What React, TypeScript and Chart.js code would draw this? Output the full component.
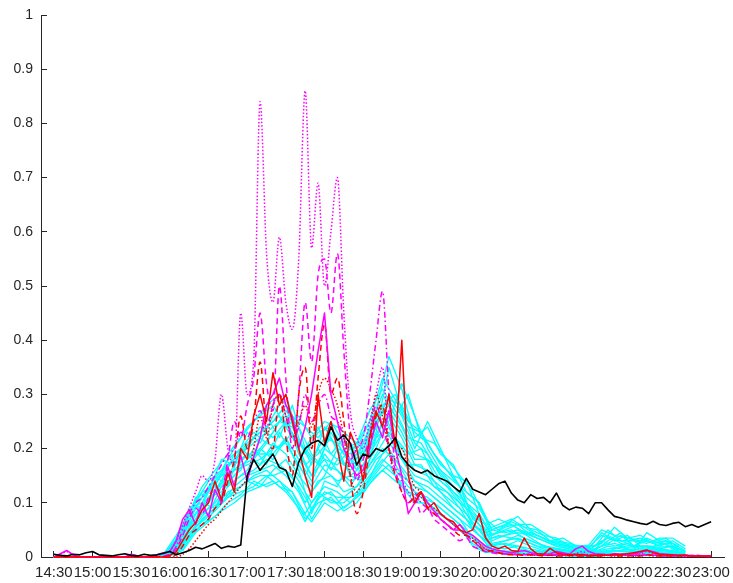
import { useEffect, useRef } from "react";
import { Chart, registerables } from "chart.js";

Chart.register(...registerables);

// Sample times in minutes after 14:30
const minutes5 = Array.from({ length: 103 }, (_, i) => i * 5); // 14:30 .. 23:00, 5-min
const minutesEven = Array.from({ length: 50 }, (_, i) => i * 10); // 14:30 .. 22:40
const minutesOdd = Array.from({ length: 49 }, (_, i) => 5 + i * 10); // 14:35 .. 22:35

const xTickMinutes = [0, 30, 60, 90, 120, 150, 180, 210, 240, 270, 300, 330, 360, 390, 420, 450, 480, 510];
const yTickValues = [0, 0.1, 0.2, 0.3, 0.4, 0.5, 0.6, 0.7, 0.8, 0.9, 1];

// Observation (5-min)
const observed = [
  0.005, 0.003, 0.002, 0.005, 0.004, 0.008, 0.01, 0.004, 0.003, 0.002, 0.004, 0.006,
  0.003, 0.002, 0.005, 0.003, 0.004, 0.007, 0.01, 0.004, 0.008, 0.012, 0.018, 0.015,
  0.02, 0.025, 0.016, 0.02, 0.018, 0.022, 0.15, 0.18, 0.16, 0.175, 0.19, 0.165,
  0.16, 0.13, 0.175, 0.2, 0.21, 0.215, 0.205, 0.24, 0.215, 0.225, 0.21, 0.17,
  0.19, 0.185, 0.2, 0.195, 0.205, 0.22, 0.185, 0.17, 0.16, 0.155, 0.16, 0.15,
  0.145, 0.14, 0.13, 0.12, 0.145, 0.125, 0.12, 0.115, 0.125, 0.135, 0.14, 0.118,
  0.105, 0.1, 0.115, 0.108, 0.11, 0.1, 0.118, 0.095, 0.087, 0.092, 0.09, 0.08,
  0.1, 0.1, 0.087, 0.075, 0.072, 0.068, 0.065, 0.062, 0.06, 0.066, 0.06, 0.058,
  0.062, 0.064, 0.056, 0.06, 0.055, 0.06, 0.065,
];

// Red runs (5-min)
const redSolid = [
  0, 0, 0, 0, 0, 0, 0, 0, 0, 0, 0, 0,
  0, 0, 0, 0, 0, 0, 0.003, 0.01, 0.03, 0.05, 0.063, 0.087,
  0.1, 0.14, 0.105, 0.155, 0.12, 0.2, 0.18, 0.26, 0.3, 0.25, 0.34, 0.28,
  0.3, 0.25, 0.2, 0.15, 0.11, 0.3, 0.21, 0.25, 0.2, 0.14, 0.23, 0.2,
  0.14, 0.22, 0.27, 0.24, 0.3, 0.2, 0.4, 0.15, 0.1, 0.12, 0.09, 0.1,
  0.08, 0.07, 0.065, 0.05, 0.045, 0.05, 0.08, 0.035, 0.02, 0.015, 0.02, 0.012,
  0.01, 0.035, 0.015, 0.006, 0.005, 0.016, 0.008, 0.005, 0.004, 0.005, 0.004, 0.003,
  0.003, 0.004, 0.003, 0.005, 0.004, 0.006, 0.008, 0.01, 0.013, 0.008, 0.005, 0.004,
  0.004, 0.003, 0.003, 0.002, 0.002, 0.002, 0.002,
];
const redDashed = [
  0, 0, 0, 0, 0, 0, 0, 0, 0, 0, 0, 0,
  0, 0, 0, 0, 0, 0, 0, 0.005, 0.02, 0.04, 0.05, 0.06,
  0.07, 0.09, 0.1, 0.14, 0.18, 0.26, 0.2, 0.25, 0.36, 0.23, 0.2, 0.3,
  0.22, 0.15, 0.3, 0.35, 0.2, 0.33, 0.43, 0.3, 0.33, 0.25, 0.15, 0.08,
  0.12, 0.2, 0.26, 0.28, 0.2, 0.15, 0.12, 0.1, 0.11, 0.12, 0.09, 0.08,
  0.07, 0.06, 0.05, 0.04, 0.04, 0.03, 0.02, 0.01, 0.012, 0.008, 0.005, 0.004,
  0.004, 0.003, 0.004, 0.003, 0.002, 0.003, 0.002, 0.002, 0.003, 0.002, 0.002, 0.002,
  0.002, 0.002, 0.003, 0.002, 0.002, 0.002, 0.003, 0.002, 0.004, 0.003, 0.002, 0.002,
  0.002, 0.002, 0.002, 0.002, 0.002, 0.001, 0.001,
];
const redDotted = [
  0, 0, 0, 0, 0, 0, 0, 0, 0, 0, 0, 0,
  0, 0, 0, 0, 0, 0, 0, 0, 0.005, 0.015, 0.03, 0.045,
  0.06, 0.07, 0.085, 0.1, 0.115, 0.13, 0.147, 0.2, 0.26, 0.22, 0.28, 0.3,
  0.26, 0.22, 0.25, 0.28, 0.24, 0.3, 0.33, 0.31, 0.28, 0.22, 0.15, 0.12,
  0.15, 0.22, 0.3, 0.26, 0.2, 0.18, 0.2, 0.16, 0.13, 0.12, 0.1, 0.09,
  0.08, 0.07, 0.06, 0.05, 0.04, 0.035, 0.025, 0.015, 0.01, 0.008, 0.006, 0.005,
  0.004, 0.005, 0.004, 0.003, 0.003, 0.004, 0.003, 0.003, 0.002, 0.003, 0.002, 0.002,
  0.002, 0.002, 0.003, 0.002, 0.002, 0.003, 0.002, 0.002, 0.003, 0.002, 0.002, 0.002,
  0.002, 0.002, 0.001, 0.002, 0.001, 0.001, 0.001,
];

// Magenta runs (5-min)
const magentaSolid = [
  0, 0.006, 0.012, 0.004, 0, 0, 0, 0, 0, 0, 0, 0,
  0.005, 0.002, 0, 0, 0.004, 0.008, 0.01, 0.03, 0.07, 0.087, 0.06, 0.1,
  0.074, 0.124, 0.1, 0.166, 0.13, 0.188, 0.14, 0.185, 0.22, 0.28, 0.3, 0.33,
  0.28, 0.26, 0.2, 0.24, 0.3, 0.38, 0.45, 0.3, 0.25, 0.2, 0.17, 0.15,
  0.16, 0.2, 0.25, 0.22, 0.27, 0.2, 0.15, 0.08, 0.1, 0.12, 0.1, 0.085,
  0.07, 0.06, 0.05, 0.06, 0.045, 0.04, 0.03, 0.02, 0.015, 0.012, 0.01, 0.008,
  0.01, 0.012, 0.008, 0.006, 0.005, 0.006, 0.01, 0.008, 0.005, 0.015, 0.02, 0.01,
  0.006, 0.005, 0.004, 0.006, 0.005, 0.004, 0.006, 0.008, 0.012, 0.01, 0.006, 0.005,
  0.004, 0.003, 0.004, 0.002, 0.003, 0.002, 0.002,
];
const magentaDashed = [
  0, 0, 0, 0, 0, 0, 0, 0, 0, 0, 0, 0,
  0, 0, 0, 0, 0, 0.002, 0.005, 0.015, 0.04, 0.07, 0.09, 0.08,
  0.11, 0.13, 0.12, 0.18, 0.25, 0.22, 0.28, 0.33, 0.45, 0.32, 0.27, 0.5,
  0.33, 0.2, 0.3, 0.47, 0.36, 0.52, 0.55, 0.45, 0.56, 0.38, 0.22, 0.14,
  0.18, 0.22, 0.28, 0.24, 0.2, 0.16, 0.12, 0.1, 0.11, 0.08, 0.09, 0.07,
  0.06, 0.05, 0.04, 0.03, 0.035, 0.02, 0.015, 0.01, 0.008, 0.006, 0.006, 0.005,
  0.004, 0.004, 0.006, 0.004, 0.003, 0.003, 0.004, 0.003, 0.003, 0.004, 0.003, 0.003,
  0.003, 0.003, 0.004, 0.003, 0.003, 0.004, 0.003, 0.003, 0.004, 0.003, 0.003, 0.002,
  0.002, 0.003, 0.002, 0.002, 0.002, 0.002, 0.002,
];
const magentaDotted = [
  0, 0.005, 0.01, 0.003, 0, 0, 0, 0, 0, 0, 0, 0,
  0.004, 0.002, 0, 0, 0.003, 0.006, 0.012, 0.03, 0.06, 0.09, 0.12, 0.15,
  0.14, 0.18, 0.3, 0.2, 0.17, 0.45, 0.3, 0.36, 0.84, 0.56, 0.47, 0.59,
  0.47, 0.42, 0.55, 0.86, 0.57, 0.69, 0.5, 0.6, 0.7, 0.45, 0.27, 0.22,
  0.2, 0.25, 0.3, 0.35, 0.2, 0.15, 0.14, 0.12, 0.1, 0.11, 0.09, 0.08,
  0.08, 0.07, 0.06, 0.05, 0.04, 0.03, 0.025, 0.015, 0.01, 0.008, 0.006, 0.005,
  0.005, 0.004, 0.005, 0.004, 0.003, 0.003, 0.005, 0.004, 0.003, 0.006, 0.01, 0.004,
  0.003, 0.004, 0.003, 0.005, 0.004, 0.006, 0.004, 0.005, 0.01, 0.006, 0.004, 0.003,
  0.003, 0.004, 0.003, 0.002, 0.003, 0.002, 0.002,
];
const magentaDashDot = [
  0, 0, 0, 0, 0, 0, 0, 0, 0, 0, 0, 0,
  0, 0, 0, 0, 0, 0, 0.003, 0.02, 0.05, 0.08, 0.1, 0.11,
  0.13, 0.15, 0.17, 0.19, 0.2, 0.23, 0.22, 0.25, 0.27, 0.24, 0.28, 0.3,
  0.26, 0.22, 0.24, 0.3, 0.25, 0.28, 0.3, 0.26, 0.25, 0.22, 0.18, 0.2,
  0.22, 0.3, 0.4, 0.49, 0.3, 0.17, 0.15, 0.14, 0.12, 0.1, 0.09, 0.08,
  0.07, 0.06, 0.05, 0.05, 0.04, 0.03, 0.02, 0.015, 0.01, 0.008, 0.006, 0.005,
  0.005, 0.006, 0.004, 0.003, 0.004, 0.003, 0.005, 0.004, 0.003, 0.004, 0.005, 0.003,
  0.003, 0.005, 0.004, 0.003, 0.006, 0.004, 0.003, 0.004, 0.005, 0.003, 0.004, 0.003,
  0.002, 0.003, 0.002, 0.003, 0.002, 0.002, 0.002,
];

// Ensemble members on the even 10-min grid (14:30 .. 22:40)
const memberE01 = [0, 0, 0, 0, 0, 0, 0, 0, 0, 0.005, 0.05, 0.11, 0.12, 0.18, 0.17, 0.23, 0.21, 0.26, 0.3, 0.22, 0.17, 0.24, 0.2, 0.19, 0.23, 0.27, 0.37, 0.31, 0.22, 0.24, 0.19, 0.17, 0.12, 0.1, 0.05, 0.06, 0.075, 0.05, 0.04, 0.035, 0.02, 0.02, 0.02, 0.05, 0.03, 0.02, 0.03, 0.02, 0.03, 0.015];
const memberE02 = [0, 0, 0, 0, 0, 0, 0, 0, 0.002, 0.004, 0.02, 0.06, 0.09, 0.1, 0.13, 0.15, 0.16, 0.17, 0.15, 0.12, 0.07, 0.11, 0.1, 0.12, 0.14, 0.18, 0.2, 0.16, 0.12, 0.11, 0.09, 0.07, 0.05, 0.03, 0.01, 0.01, 0.008, 0.006, 0.005, 0.004, 0.003, 0.002, 0.002, 0.004, 0.005, 0.004, 0.006, 0.004, 0.003, 0.002];
const memberE03 = [0, 0, 0, 0, 0, 0, 0, 0, 0, 0.006, 0.04, 0.09, 0.1, 0.14, 0.19, 0.2, 0.24, 0.22, 0.25, 0.2, 0.15, 0.2, 0.18, 0.16, 0.18, 0.24, 0.3, 0.26, 0.2, 0.25, 0.2, 0.15, 0.14, 0.08, 0.04, 0.05, 0.06, 0.04, 0.03, 0.02, 0.015, 0.01, 0.012, 0.03, 0.045, 0.02, 0.02, 0.018, 0.02, 0.01];
const memberE04 = [0, 0, 0, 0, 0, 0, 0, 0, 0, 0.003, 0.03, 0.08, 0.11, 0.12, 0.15, 0.18, 0.2, 0.23, 0.27, 0.24, 0.19, 0.16, 0.14, 0.15, 0.17, 0.21, 0.25, 0.32, 0.26, 0.2, 0.16, 0.13, 0.1, 0.07, 0.03, 0.04, 0.05, 0.035, 0.02, 0.015, 0.01, 0.008, 0.01, 0.02, 0.015, 0.012, 0.045, 0.03, 0.015, 0.008];
const memberE05 = [0, 0, 0, 0, 0, 0, 0, 0, 0, 0.002, 0.015, 0.05, 0.07, 0.11, 0.12, 0.14, 0.13, 0.16, 0.18, 0.14, 0.1, 0.13, 0.12, 0.1, 0.13, 0.16, 0.19, 0.15, 0.13, 0.12, 0.1, 0.08, 0.06, 0.04, 0.02, 0.015, 0.02, 0.01, 0.008, 0.006, 0.005, 0.004, 0.005, 0.008, 0.006, 0.005, 0.008, 0.006, 0.005, 0.003];
const memberE06 = [0, 0, 0, 0, 0, 0, 0, 0, 0.003, 0.008, 0.06, 0.1, 0.14, 0.16, 0.2, 0.24, 0.26, 0.28, 0.24, 0.26, 0.22, 0.25, 0.24, 0.22, 0.2, 0.25, 0.28, 0.24, 0.19, 0.18, 0.16, 0.14, 0.12, 0.1, 0.04, 0.055, 0.06, 0.06, 0.045, 0.03, 0.025, 0.018, 0.02, 0.035, 0.03, 0.03, 0.025, 0.035, 0.035, 0.02];
const memberE07 = [0, 0, 0, 0, 0, 0, 0, 0, 0, 0.004, 0.035, 0.07, 0.12, 0.15, 0.16, 0.17, 0.18, 0.2, 0.21, 0.17, 0.13, 0.17, 0.16, 0.14, 0.15, 0.19, 0.23, 0.2, 0.16, 0.15, 0.13, 0.11, 0.09, 0.06, 0.02, 0.03, 0.035, 0.025, 0.015, 0.012, 0.008, 0.006, 0.008, 0.012, 0.01, 0.008, 0.012, 0.01, 0.008, 0.005];
const memberE08 = [0, 0, 0, 0, 0, 0, 0, 0, 0, 0.003, 0.025, 0.08, 0.08, 0.13, 0.14, 0.16, 0.2, 0.18, 0.22, 0.16, 0.08, 0.14, 0.13, 0.18, 0.16, 0.2, 0.26, 0.22, 0.17, 0.16, 0.12, 0.1, 0.08, 0.05, 0.015, 0.02, 0.03, 0.02, 0.012, 0.01, 0.006, 0.005, 0.006, 0.01, 0.02, 0.01, 0.015, 0.012, 0.01, 0.004];
const memberE09 = [0, 0, 0, 0, 0, 0, 0, 0, 0, 0.002, 0.012, 0.045, 0.065, 0.085, 0.1, 0.12, 0.13, 0.14, 0.12, 0.09, 0.065, 0.1, 0.085, 0.1, 0.12, 0.15, 0.17, 0.13, 0.1, 0.1, 0.08, 0.06, 0.04, 0.03, 0.008, 0.006, 0.005, 0.004, 0.003, 0.003, 0.002, 0.002, 0.002, 0.003, 0.003, 0.003, 0.003, 0.003, 0.002, 0.002];
const memberE10 = [0, 0, 0, 0, 0, 0, 0, 0, 0.001, 0.005, 0.045, 0.09, 0.13, 0.16, 0.18, 0.21, 0.23, 0.25, 0.28, 0.21, 0.18, 0.22, 0.21, 0.17, 0.21, 0.26, 0.29, 0.28, 0.23, 0.21, 0.17, 0.15, 0.11, 0.09, 0.05, 0.045, 0.05, 0.045, 0.035, 0.025, 0.02, 0.015, 0.015, 0.025, 0.04, 0.02, 0.035, 0.025, 0.025, 0.012];
const memberE11 = [0, 0, 0, 0, 0, 0, 0, 0, 0, 0.004, 0.03, 0.07, 0.1, 0.13, 0.17, 0.19, 0.17, 0.21, 0.19, 0.15, 0.12, 0.15, 0.2, 0.15, 0.14, 0.22, 0.24, 0.18, 0.15, 0.14, 0.12, 0.09, 0.07, 0.05, 0.02, 0.025, 0.02, 0.015, 0.01, 0.008, 0.006, 0.005, 0.006, 0.01, 0.012, 0.015, 0.01, 0.008, 0.006, 0.004];
const memberE12 = [0, 0, 0, 0, 0, 0, 0, 0, 0, 0.006, 0.055, 0.1, 0.12, 0.15, 0.18, 0.2, 0.22, 0.24, 0.26, 0.19, 0.15, 0.18, 0.17, 0.2, 0.19, 0.23, 0.35, 0.27, 0.21, 0.19, 0.15, 0.12, 0.1, 0.08, 0.035, 0.04, 0.045, 0.04, 0.03, 0.02, 0.015, 0.012, 0.014, 0.04, 0.025, 0.018, 0.02, 0.015, 0.02, 0.01];
const memberE13 = [0, 0, 0, 0, 0, 0, 0, 0, 0, 0.002, 0.02, 0.055, 0.08, 0.1, 0.12, 0.14, 0.15, 0.15, 0.16, 0.13, 0.09, 0.12, 0.11, 0.11, 0.12, 0.17, 0.21, 0.18, 0.14, 0.13, 0.11, 0.09, 0.07, 0.04, 0.012, 0.01, 0.012, 0.008, 0.006, 0.005, 0.004, 0.003, 0.004, 0.006, 0.005, 0.005, 0.006, 0.005, 0.004, 0.003];
const memberE14 = [0, 0, 0, 0, 0, 0, 0, 0, 0, 0.004, 0.04, 0.08, 0.11, 0.14, 0.16, 0.19, 0.19, 0.19, 0.22, 0.18, 0.14, 0.19, 0.16, 0.13, 0.17, 0.22, 0.27, 0.23, 0.18, 0.18, 0.14, 0.12, 0.09, 0.07, 0.025, 0.03, 0.04, 0.03, 0.02, 0.015, 0.012, 0.01, 0.01, 0.015, 0.018, 0.012, 0.02, 0.015, 0.012, 0.006];

// Ensemble members on the offset 10-min grid (14:35 .. 22:35)
const memberO01 = [0, 0, 0, 0, 0, 0, 0, 0, 0.004, 0.03, 0.09, 0.1, 0.15, 0.13, 0.2, 0.18, 0.26, 0.22, 0.28, 0.2, 0.24, 0.19, 0.22, 0.18, 0.24, 0.3, 0.26, 0.3, 0.22, 0.21, 0.18, 0.15, 0.12, 0.07, 0.05, 0.065, 0.055, 0.05, 0.03, 0.035, 0.02, 0.018, 0.025, 0.055, 0.035, 0.04, 0.025, 0.03, 0.02];
const memberO02 = [0, 0, 0, 0, 0, 0, 0, 0, 0.002, 0.01, 0.035, 0.06, 0.075, 0.1, 0.115, 0.14, 0.13, 0.14, 0.12, 0.07, 0.1, 0.11, 0.085, 0.1, 0.135, 0.16, 0.14, 0.12, 0.1, 0.085, 0.07, 0.05, 0.035, 0.012, 0.008, 0.006, 0.005, 0.004, 0.003, 0.003, 0.002, 0.002, 0.003, 0.004, 0.003, 0.004, 0.003, 0.002, 0.002];
const memberO03 = [0, 0, 0, 0, 0, 0, 0, 0, 0.003, 0.02, 0.06, 0.1, 0.09, 0.14, 0.16, 0.2, 0.17, 0.23, 0.19, 0.15, 0.2, 0.16, 0.2, 0.16, 0.22, 0.27, 0.22, 0.19, 0.2, 0.15, 0.13, 0.1, 0.06, 0.04, 0.045, 0.05, 0.035, 0.025, 0.018, 0.014, 0.01, 0.012, 0.03, 0.02, 0.025, 0.015, 0.015, 0.012, 0.008];
const memberO04 = [0, 0, 0, 0, 0, 0, 0, 0, 0.005, 0.04, 0.08, 0.13, 0.16, 0.19, 0.22, 0.25, 0.28, 0.3, 0.26, 0.24, 0.22, 0.25, 0.21, 0.2, 0.25, 0.33, 0.29, 0.24, 0.23, 0.19, 0.16, 0.13, 0.075, 0.06, 0.07, 0.06, 0.045, 0.04, 0.03, 0.025, 0.02, 0.022, 0.05, 0.04, 0.035, 0.03, 0.028, 0.035, 0.015];
const memberO05 = [0, 0, 0, 0, 0, 0, 0, 0, 0, 0.008, 0.04, 0.07, 0.09, 0.12, 0.13, 0.15, 0.16, 0.14, 0.11, 0.065, 0.11, 0.12, 0.09, 0.11, 0.14, 0.17, 0.15, 0.12, 0.11, 0.09, 0.07, 0.05, 0.025, 0.01, 0.012, 0.01, 0.006, 0.005, 0.004, 0.003, 0.003, 0.003, 0.005, 0.006, 0.004, 0.005, 0.004, 0.003, 0.002];
const memberO06 = [0, 0, 0, 0, 0, 0, 0, 0, 0.002, 0.025, 0.07, 0.09, 0.12, 0.15, 0.17, 0.18, 0.21, 0.2, 0.23, 0.17, 0.19, 0.22, 0.17, 0.19, 0.2, 0.25, 0.2, 0.17, 0.17, 0.13, 0.12, 0.09, 0.05, 0.03, 0.04, 0.035, 0.03, 0.02, 0.016, 0.012, 0.01, 0.01, 0.02, 0.025, 0.018, 0.02, 0.016, 0.012, 0.006];
const memberO07 = [0, 0, 0, 0, 0, 0, 0, 0, 0.003, 0.035, 0.075, 0.11, 0.14, 0.17, 0.19, 0.22, 0.24, 0.26, 0.22, 0.2, 0.17, 0.23, 0.19, 0.17, 0.23, 0.28, 0.3, 0.25, 0.23, 0.19, 0.16, 0.13, 0.07, 0.05, 0.06, 0.07, 0.055, 0.04, 0.028, 0.022, 0.016, 0.018, 0.04, 0.03, 0.03, 0.035, 0.025, 0.03, 0.012];
const memberO08 = [0, 0, 0, 0, 0, 0, 0, 0, 0, 0.015, 0.05, 0.08, 0.1, 0.13, 0.15, 0.16, 0.18, 0.17, 0.15, 0.1, 0.14, 0.15, 0.12, 0.13, 0.17, 0.2, 0.18, 0.15, 0.13, 0.11, 0.09, 0.07, 0.035, 0.02, 0.025, 0.02, 0.012, 0.01, 0.008, 0.006, 0.005, 0.006, 0.01, 0.012, 0.01, 0.01, 0.008, 0.006, 0.004];
const memberO09 = [0, 0, 0, 0, 0, 0, 0, 0, 0.002, 0.03, 0.085, 0.12, 0.13, 0.18, 0.2, 0.23, 0.21, 0.25, 0.24, 0.19, 0.23, 0.24, 0.2, 0.21, 0.27, 0.31, 0.27, 0.22, 0.21, 0.17, 0.14, 0.12, 0.06, 0.045, 0.055, 0.06, 0.045, 0.035, 0.025, 0.02, 0.015, 0.015, 0.045, 0.03, 0.04, 0.02, 0.02, 0.025, 0.01];
const memberO10 = [0, 0, 0, 0, 0, 0, 0, 0, 0, 0.012, 0.045, 0.065, 0.085, 0.11, 0.12, 0.13, 0.15, 0.13, 0.12, 0.08, 0.12, 0.1, 0.1, 0.12, 0.15, 0.18, 0.16, 0.13, 0.11, 0.1, 0.08, 0.06, 0.02, 0.008, 0.01, 0.008, 0.006, 0.005, 0.004, 0.003, 0.003, 0.003, 0.004, 0.005, 0.004, 0.004, 0.004, 0.003, 0.002];

const ensembleEven = [
  memberE01, memberE02, memberE03, memberE04, memberE05, memberE06, memberE07,
  memberE08, memberE09, memberE10, memberE11, memberE12, memberE13, memberE14,
];
const ensembleOdd = [
  memberO01, memberO02, memberO03, memberO04, memberO05,
  memberO06, memberO07, memberO08, memberO09, memberO10,
];

const AXIS = "#262626";
const FONT = '"Liberation Sans", Arial, Helvetica, sans-serif';

function clockLabel(m: number) {
  const total = 14 * 60 + 30 + m;
  const h = Math.floor(total / 60);
  const mm = total % 60;
  return `${h}:${mm < 10 ? "0" : ""}${mm}`;
}

function toPoints(times: number[], values: number[]) {
  return values.map((v, i) => ({ x: times[i], y: v }));
}

// Keep the plot box fixed: no extra room reserved for end labels
function fixBox(scale: any, size: { width?: number; height?: number }) {
  if (size.width !== undefined) scale.width = size.width;
  if (size.height !== undefined) scale.height = size.height;
  scale.paddingLeft = 0;
  scale.paddingRight = 0;
  scale.paddingTop = 0;
  scale.paddingBottom = 0;
}

export default function App() {
  const canvasRef = useRef<HTMLCanvasElement | null>(null);

  useEffect(() => {
    const canvas = canvasRef.current;
    if (!canvas) return;

    const line = (data: number[], color: string, width: number, dash: number[] = [], smooth = false) => ({
      data: toPoints(minutes5, data),
      borderColor: color,
      borderWidth: width,
      borderDash: dash,
      pointRadius: 0,
      tension: smooth ? 0.4 : 0,
      cubicInterpolationMode: smooth ? ("monotone" as const) : ("default" as const),
      fill: false,
      clip: false as const,
      borderJoinStyle: "round" as const,
    });

    const member = (times: number[], data: number[]) => ({
      data: toPoints(times, data),
      borderColor: "#00ffff",
      borderWidth: 1.3,
      pointRadius: 0,
      tension: 0,
      fill: false,
      clip: false,
      borderJoinStyle: "round",
    });

    const datasets: any[] = [
      line(observed, "#000000", 1.6),
      line(redSolid, "#ff0000", 1.5),
      line(magentaSolid, "#ff00ff", 1.5),
      line(redDashed, "#ff0000", 1.5, [6, 4], true),
      line(magentaDashed, "#ff00ff", 1.5, [6, 4], true),
      line(redDotted, "#ff0000", 1.5, [1.5, 2], true),
      line(magentaDotted, "#ff00ff", 1.5, [1.5, 2], true),
      line(magentaDashDot, "#ff00ff", 1.5, [6, 3, 1.5, 3], true),
      ...ensembleEven.map((m) => member(minutesEven, m)),
      ...ensembleOdd.map((m) => member(minutesOdd, m)),
    ];

    const axisGrid = {
      display: true,
      drawOnChartArea: false,
      drawTicks: true,
      tickLength: -6,
      color: AXIS,
      tickColor: AXIS,
      lineWidth: 1,
      tickWidth: 1,
    };

    const chart = new Chart(canvas, {
      type: "line",
      data: { datasets },
      options: {
        animation: false,
        responsive: false,
        devicePixelRatio: 1,
        events: [],
        parsing: false,
        normalized: true,
        layout: { padding: { top: 15, right: 9, left: 0, bottom: 0 }, autoPadding: false },
        plugins: { legend: { display: false }, tooltip: { enabled: false } },
        scales: {
          x: {
            type: "linear",
            min: -10,
            max: 520,
            grid: axisGrid,
            border: { display: true, color: AXIS, width: 1 },
            afterBuildTicks: (axis: any) => {
              axis.ticks = xTickMinutes.map((v) => ({ value: v }));
            },
            afterFit: (scale: any) => fixBox(scale, { height: 26 }),
            ticks: {
              autoSkip: false,
              maxRotation: 0,
              minRotation: 0,
              padding: 13,
              color: AXIS,
              font: { family: FONT, size: 15 },
              callback: (v: any) => clockLabel(Number(v)),
            },
          },
          y: {
            type: "linear",
            min: 0,
            max: 1,
            grid: axisGrid,
            border: { display: true, color: AXIS, width: 1 },
            afterBuildTicks: (axis: any) => {
              axis.ticks = yTickValues.map((v) => ({ value: v }));
            },
            afterFit: (scale: any) => fixBox(scale, { width: 41 }),
            ticks: {
              padding: 14,
              color: AXIS,
              font: { family: FONT, size: 14 },
              callback: (v: any) => String(Number(Number(v).toFixed(1))),
            },
          },
        },
      },
    });

    return () => chart.destroy();
  }, []);

  return (
    <div style={{ position: "absolute", left: 0, top: 0, width: 733, height: 583, background: "#ffffff" }}>
      <canvas ref={canvasRef} width={733} height={583} style={{ display: "block" }} />
    </div>
  );
}
